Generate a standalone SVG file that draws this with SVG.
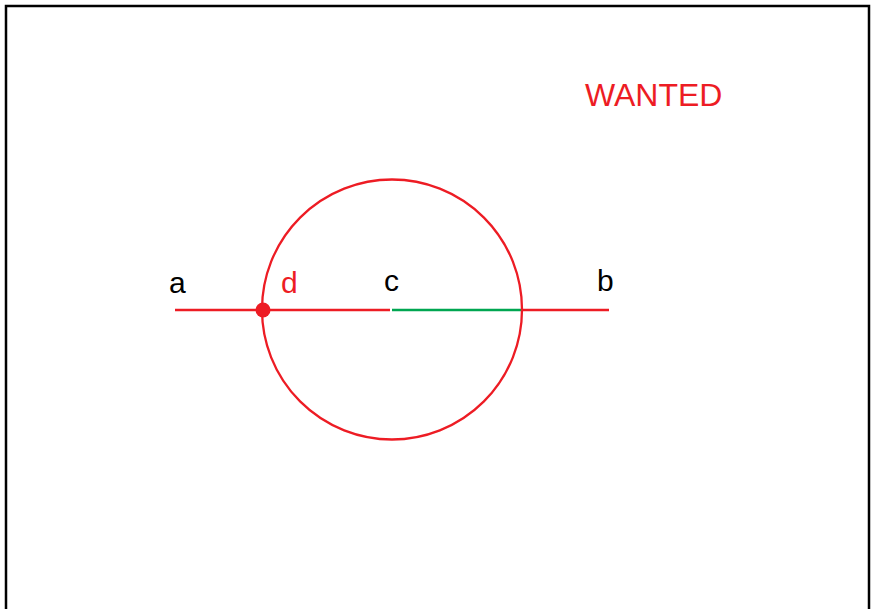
<svg xmlns="http://www.w3.org/2000/svg" width="873" height="609" viewBox="0 0 873 609">
<style>
.lbl{font-family:"Liberation Sans",Arial,sans-serif;font-size:30px;fill:#000}
.red{fill:#ed1c24}
.ln{stroke-width:2.3;fill:none}
</style>
<rect x="0" y="0" width="873" height="609" fill="#fff"/>
<rect x="6" y="6" width="863" height="620" fill="none" stroke="#000" stroke-width="2.5"/>
<g id="connectors">
<line class="ln" x1="175" y1="310" x2="390" y2="310" stroke="#ed1c24"/>
<line class="ln" x1="392" y1="310" x2="521" y2="310" stroke="#00a651"/>
<line class="ln" x1="522" y1="310" x2="609" y2="310" stroke="#ed1c24"/>
</g>
<g id="circle">
<circle class="ln" cx="392" cy="309.5" r="130" stroke="#ed1c24"/>
</g>
<g id="point-d">
<circle cx="263" cy="310" r="7.5" fill="#ed1c24"/>
<text class="lbl red" x="281" y="293">d</text>
</g>
<g id="point-a"><text class="lbl" x="169" y="293">a</text></g>
<g id="point-c"><text class="lbl" x="384" y="291">c</text></g>
<g id="point-b"><text class="lbl" x="597" y="291">b</text></g>
<g id="title"><text class="lbl red" x="585" y="106" style="font-size:32px">WANTED</text></g>
</svg>
